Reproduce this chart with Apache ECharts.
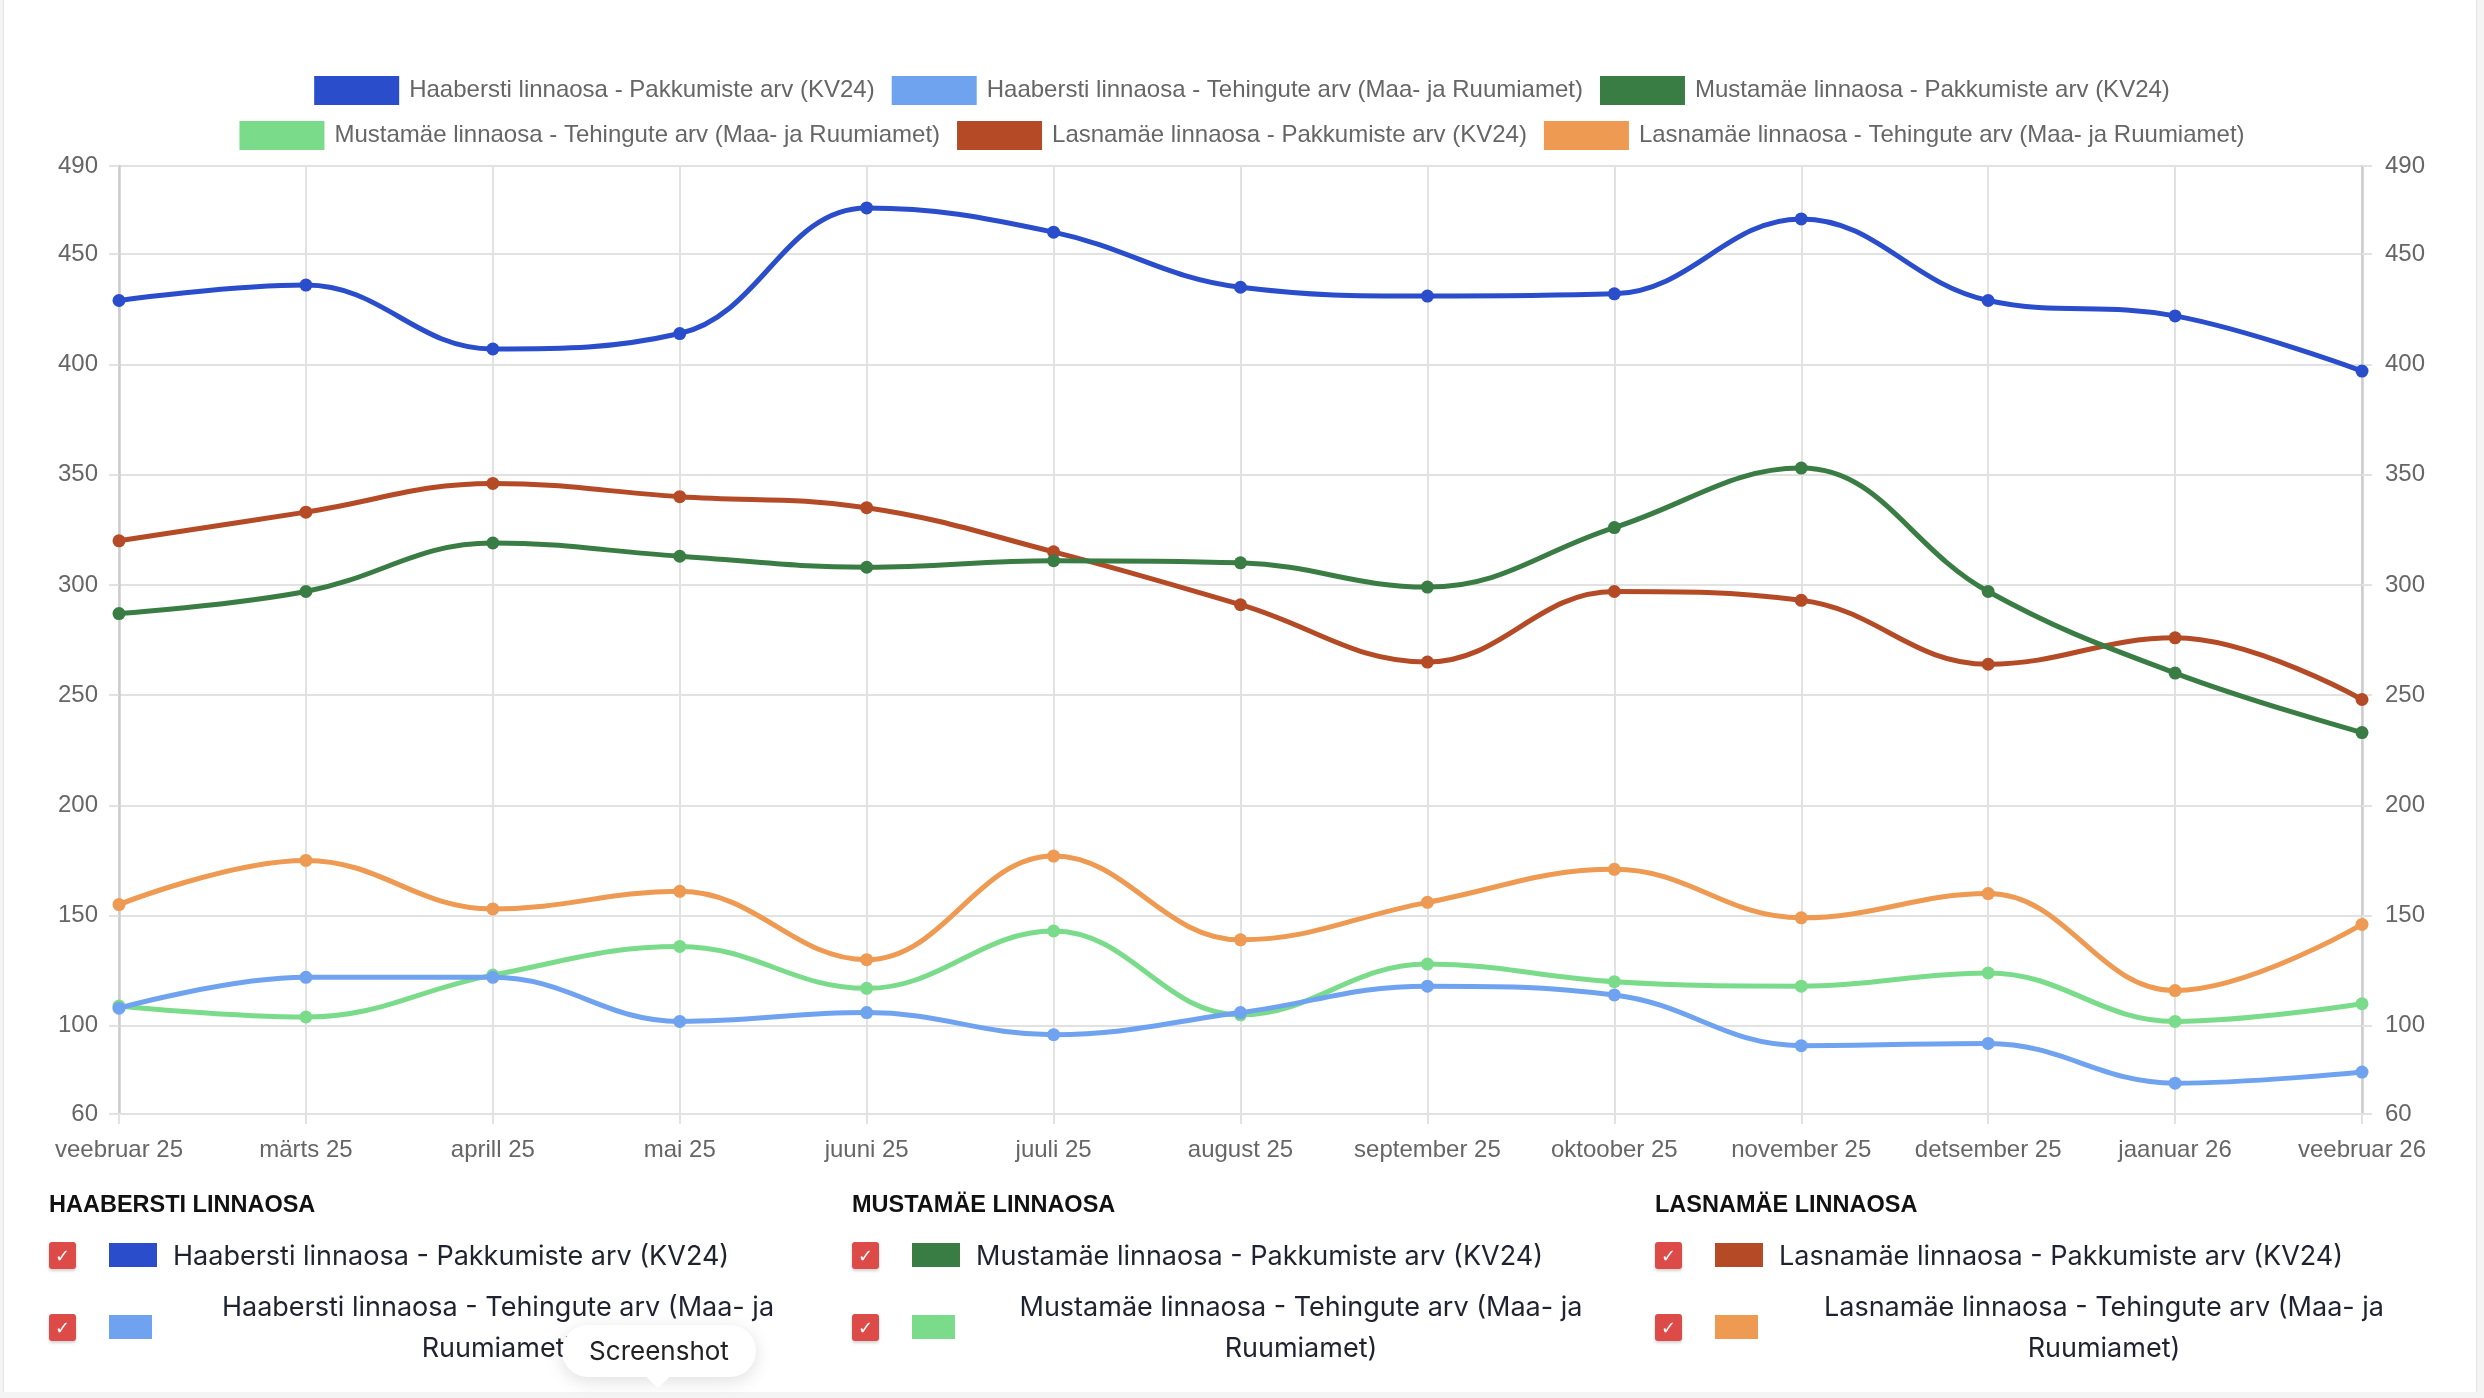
<!DOCTYPE html>
<html>
<head>
<meta charset="utf-8">
<title>Pakkumised ja tehingud linnaosade kaupa</title>
<script src="https://cdn.jsdelivr.net/npm/echarts@6.0.0/dist/echarts.min.js"></script>
<style>
  html, body { margin: 0; padding: 0; background: #f4f4f4; }
  #page { position: absolute; left: 3px; top: 0; width: 2472px; height: 1392px; background: #fff; border-left: 1px solid #e4e4e4; border-right: 1px solid #e4e4e4; }
  #chart { position: absolute; left: 0; top: 0; width: 2484px; height: 1398px; }
  .grp { position: absolute; top: 1188px; width: 803px; font-family: Inter, "Liberation Sans", sans-serif; color: #1f2330; z-index: 3; }
  .head { font-family: "Liberation Sans", Arial, sans-serif; font-weight: bold; font-size: 23.5px; line-height: 32px; color: #111; }
  .row { display: flex; align-items: center; }
  .row1 { margin-top: 21px; height: 28px; }
  .row2 { margin-top: 17px; height: 82px; }
  .cb { width: 27px; height: 27px; border-radius: 3px; background: #dc4b48; color: #fff; font: bold 18px "DejaVu Sans", sans-serif; text-align: center; line-height: 27px; box-shadow: 0 2px 3px rgba(0,0,0,0.18); flex: none; }
  .sw { height: 24px; margin-left: 33px; flex: none; }
  .row1 .sw { width: 48px; }
  .row2 .sw { width: 43px; }
  .lbl { font-size: 27px; margin-left: 16px; white-space: nowrap; }
  .row2 .lbl { white-space: normal; width: 660px; text-align: center; line-height: 41px; }
  #shot { position: absolute; left: 562px; top: 1325px; width: 194px; height: 52px; border-radius: 26px; background: #fff; box-shadow: 0 4px 18px rgba(0,0,0,0.13); font: 26px Inter, sans-serif; color: #222; text-align: center; line-height: 52px; z-index: 5; }
  #shot:after { content: ""; position: absolute; left: 88px; bottom: -8px; width: 16px; height: 16px; background: #fff; transform: rotate(45deg); }
</style>
</head>
<body>
<div id="page"></div>
<div id="chart"></div>
<div id="legendBottom"></div>
<div id="shot">Screenshot</div>
<script>
  var months = ['veebruar 25', 'märts 25', 'aprill 25', 'mai 25', 'juuni 25', 'juuli 25', 'august 25',
    'september 25', 'oktoober 25', 'november 25', 'detsember 25', 'jaanuar 26', 'veebruar 26'];
  var yTicks = [60, 100, 150, 200, 250, 300, 350, 400, 450, 490];

  var districts = ['HAABERSTI LINNAOSA', 'MUSTAMÄE LINNAOSA', 'LASNAMÄE LINNAOSA'];
  var seriesNames = [
    'Haabersti linnaosa - Pakkumiste arv (KV24)',
    'Haabersti linnaosa - Tehingute arv (Maa- ja Ruumiamet)',
    'Mustamäe linnaosa - Pakkumiste arv (KV24)',
    'Mustamäe linnaosa - Tehingute arv (Maa- ja Ruumiamet)',
    'Lasnamäe linnaosa - Pakkumiste arv (KV24)',
    'Lasnamäe linnaosa - Tehingute arv (Maa- ja Ruumiamet)'
  ];
  var colors = ['#2a4dcc', '#6fa3f0', '#3a7d44', '#7adc8b', '#b44b26', '#ee9a52'];

  var haaberstiPakkumised = [429, 436, 407, 414, 471, 460, 435, 431, 432, 466, 429, 422, 397];
  var haaberstiTehingud = [108, 122, 122, 102, 106, 96, 106, 118, 114, 91, 92, 74, 79];
  var mustamaePakkumised = [287, 297, 319, 313, 308, 311, 310, 299, 326, 353, 297, 260, 233];
  var mustamaeTehingud = [109, 104, 123, 136, 117, 143, 105, 128, 120, 118, 124, 102, 110];
  var lasnamaePakkumised = [320, 333, 346, 340, 335, 315, 291, 265, 297, 293, 264, 276, 248];
  var lasnamaeTehingud = [155, 175, 153, 161, 130, 177, 139, 156, 171, 149, 160, 116, 146];

  var values = [haaberstiPakkumised, haaberstiTehingud, mustamaePakkumised,
    mustamaeTehingud, lasnamaePakkumised, lasnamaeTehingud];

  var font = '"Liberation Sans", Arial, sans-serif';
  var gridColor = '#e2e2e2';

  function yAxis(pos) {
    return {
      type: 'value',
      position: pos,
      min: 60,
      max: 490,
      axisLine: { show: true, lineStyle: { color: '#cccccc', width: 2.5 } },
      axisTick: { show: true, length: 10, customValues: yTicks, lineStyle: { color: gridColor, width: 2 } },
      axisLabel: { customValues: yTicks, fontSize: 24, color: '#666', fontFamily: font, margin: pos === 'left' ? 21 : 23 },
      splitLine: { show: pos === 'left', lineStyle: { color: gridColor, width: 2 } }
    };
  }

  var chart = echarts.init(document.getElementById('chart'));
  chart.setOption({
    animation: false,
    color: colors,
    legend: [
      { data: seriesNames.slice(0, 3), top: 76, left: 'center' },
      { data: seriesNames.slice(3), top: 121, left: 'center' }
    ].map(function (l) {
      return Object.assign(l, {
        icon: 'rect', itemWidth: 85, itemHeight: 29, itemGap: 17, padding: 0,
        textStyle: { fontSize: 24, color: '#666', fontFamily: font, padding: [0, 0, 0, 5] }
      });
    }),
    grid: { left: 119, right: 122, top: 166, bottom: 284 },
    xAxis: {
      type: 'category',
      data: months,
      boundaryGap: false,
      axisLine: { show: true, lineStyle: { color: gridColor, width: 2 } },
      axisTick: { show: true, length: 10, lineStyle: { color: gridColor, width: 2 } },
      axisLabel: { fontSize: 24, color: '#666', fontFamily: font, margin: 24, interval: 0 },
      splitLine: { show: true, lineStyle: { color: gridColor, width: 2 } }
    },
    yAxis: [yAxis('left'), yAxis('right')],
    series: seriesNames.map(function (name, i) {
      return {
        name: name,
        type: 'line',
        data: values[i],
        smooth: 0.4,
        symbol: 'circle',
        symbolSize: 13,
        z: 10 - i,
        lineStyle: { width: 5, color: colors[i] },
        itemStyle: { color: colors[i] }
      };
    })
  });

  // legend under the chart, one column per district
  var holder = document.getElementById('legendBottom');
  districts.forEach(function (d, g) {
    var col = document.createElement('div');
    col.className = 'grp';
    col.style.left = (49 + g * 803) + 'px';
    var html = '<div class="head">' + d + '</div>';
    for (var k = 0; k < 2; k++) {
      var i = g * 2 + k;
      html += '<div class="row row' + (k + 1) + '"><span class="cb">✓</span>' +
        '<span class="sw" style="background:' + colors[i] + '"></span>' +
        '<span class="lbl">' + seriesNames[i] + '</span></div>';
    }
    col.innerHTML = html;
    holder.appendChild(col);
  });
</script>
</body>
</html>
